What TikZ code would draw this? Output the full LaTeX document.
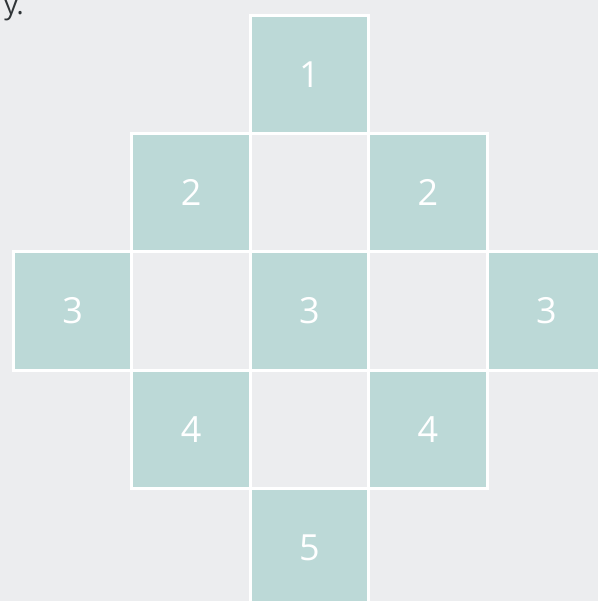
\documentclass[tikz,border=0pt]{standalone}
\usepackage{fontspec}
\setmainfont{Open Sans}
\usetikzlibrary{positioning}
\definecolor{PageGray}{HTML}{ECEDEF}
\definecolor{SoftTeal}{HTML}{BCD9D7}
\definecolor{InkGray}{HTML}{2F3437}

\begin{document}
\begin{tikzpicture}[
      x=0.75pt, y=-0.75pt,
      cell/.style={
        minimum size=88.8pt,
        inner sep=0pt,
        draw=white,
        line width=2.25pt,
        text=white,
        font=\fontsize{27}{30}\selectfont
      },
      filled/.style={cell, fill=SoftTeal},
      empty/.style={cell}
    ]
      \fill[PageGray] (0,0) rectangle (598,601);
      \useasboundingbox (0,0) rectangle (598,601);
      \clip (0,0) rectangle (598,601);
      \node[inner sep=0pt, anchor=base east, text=InkGray,
        font=\fontsize{20}{24}\selectfont] (tail) at (24,14) {y.};
      % teal cells: column/row/label
      \foreach \c/\r/\n in {2/0/1, 1/1/2, 3/1/2, 0/2/3, 2/2/3, 4/2/3, 1/3/4, 3/3/4, 2/4/5}
        \node[filled] (cell-\c-\r) at ({13.5+118.4*(\c+0.5)},{15+118.4*(\r+0.5)}) {\n};
      % empty cells
      \foreach \c/\r in {2/1, 1/2, 3/2, 2/3}
        \node[empty] (cell-\c-\r) at ({13.5+118.4*(\c+0.5)},{15+118.4*(\r+0.5)}) {};
    \end{tikzpicture}
\end{document}
